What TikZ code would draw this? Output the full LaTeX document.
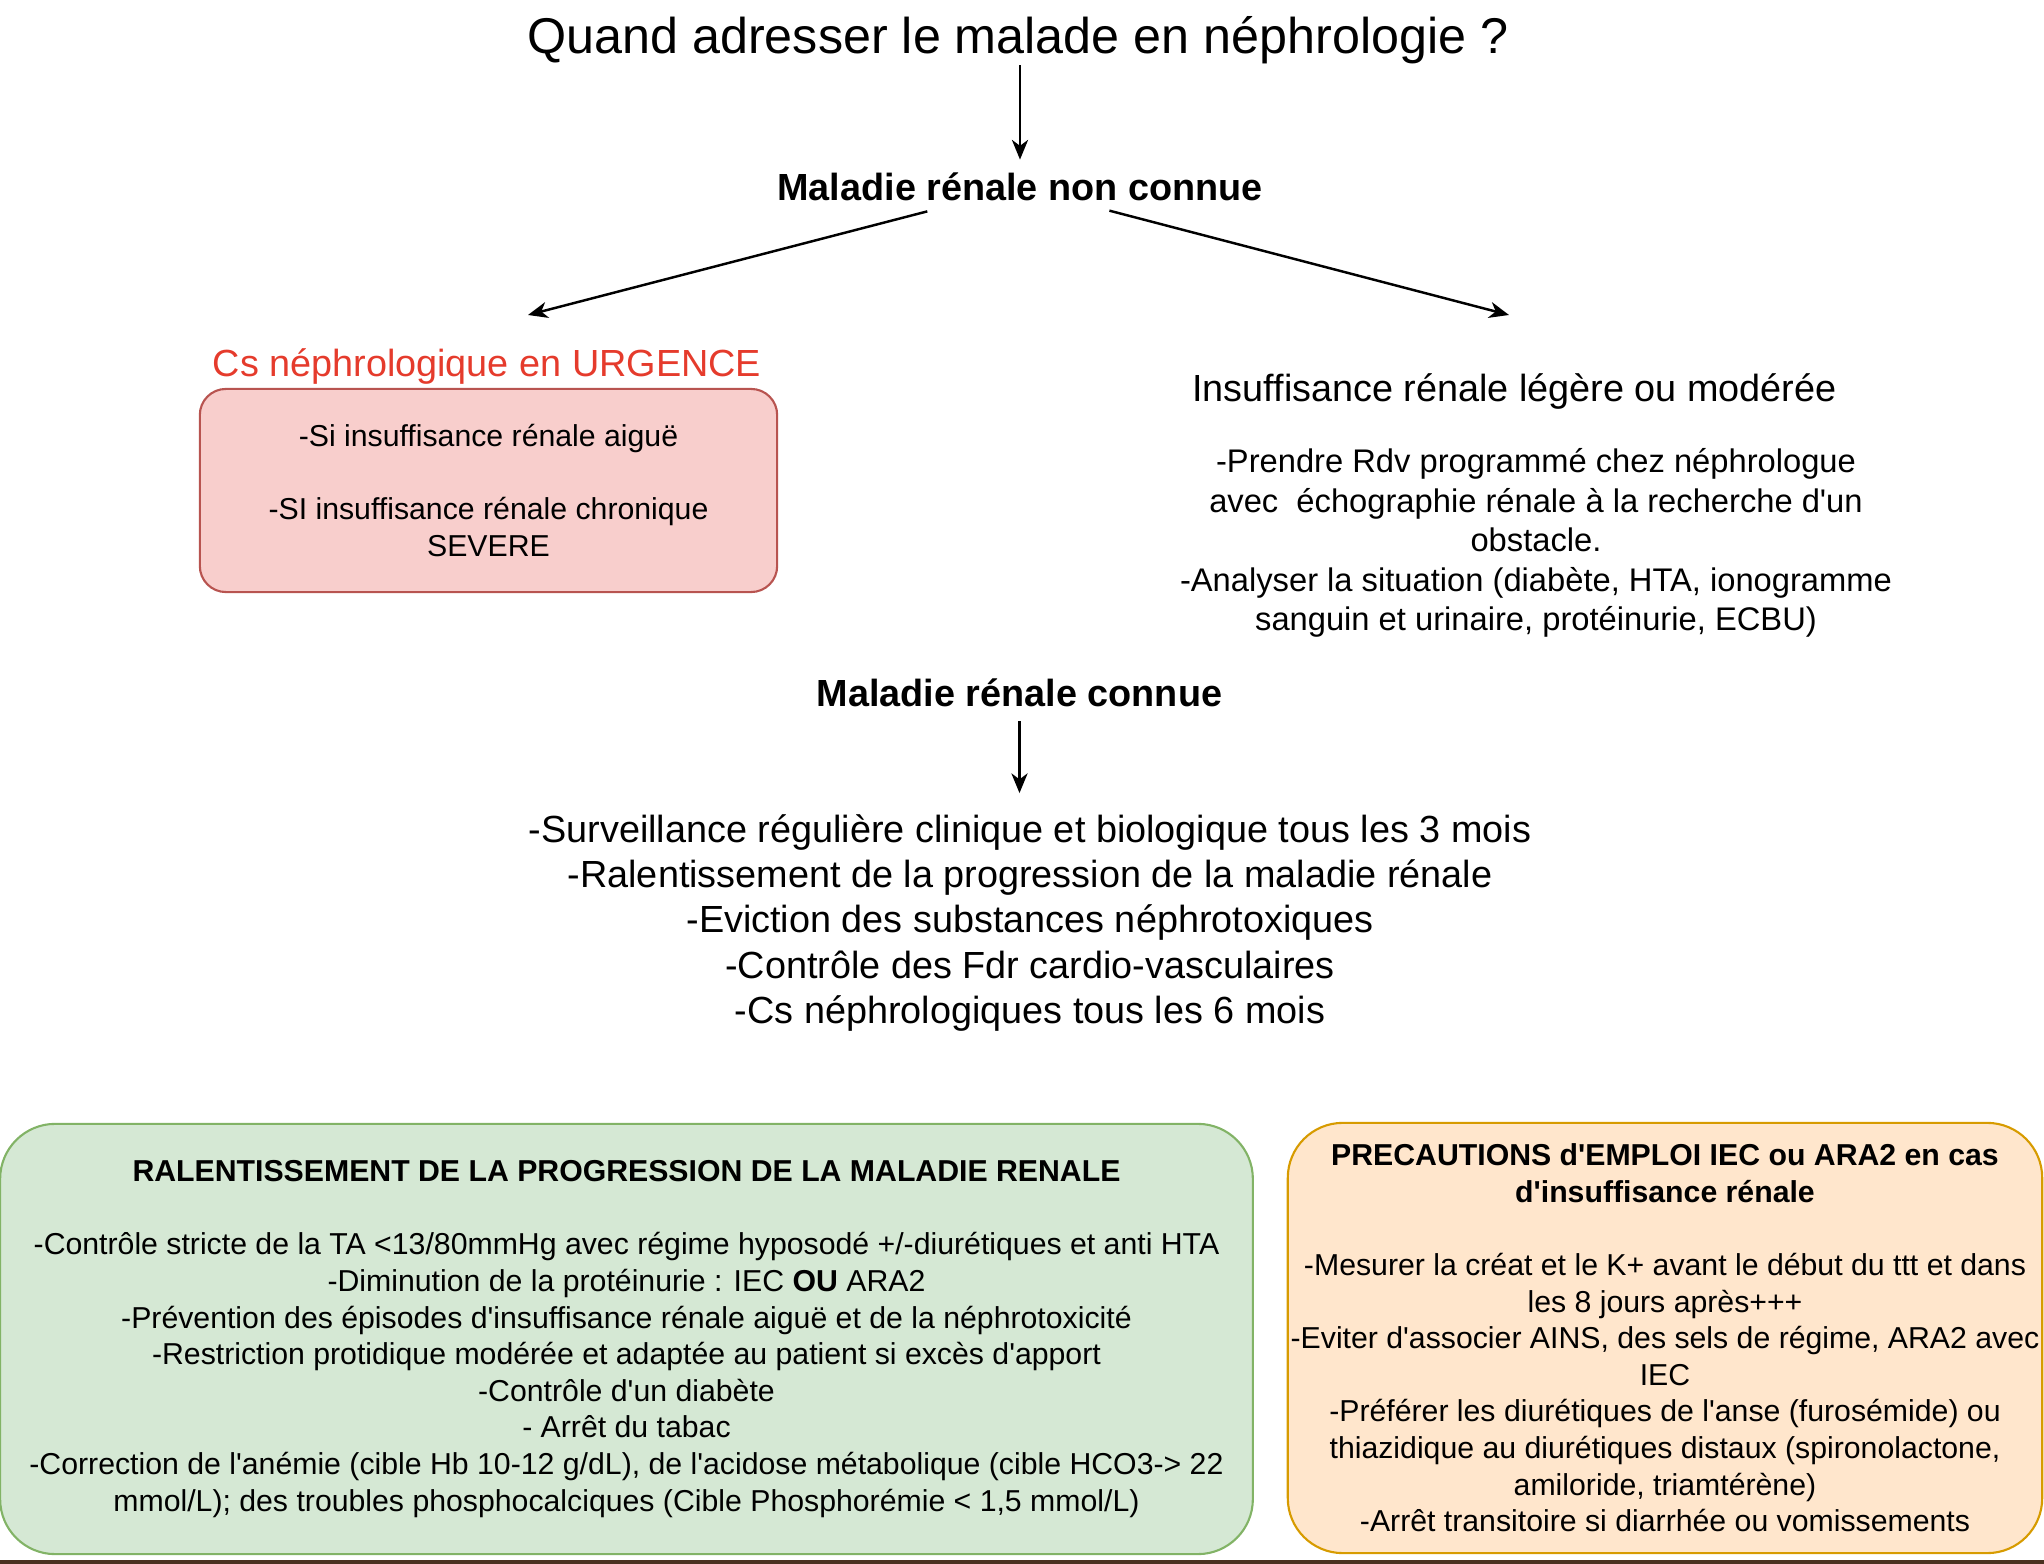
\documentclass[tikz,border=0pt]{standalone}
\usepackage{fontspec}
\setmainfont{Liberation Sans}
\usetikzlibrary{arrows.meta}
\definecolor{npred}{HTML}{E53B2C}
\definecolor{nppink}{HTML}{F8CECC}
\definecolor{nppinkline}{HTML}{B85450}
\definecolor{npgreen}{HTML}{D5E8D4}
\definecolor{npgreenline}{HTML}{82B366}
\definecolor{nporange}{HTML}{FFE6CC}
\definecolor{nporangeline}{HTML}{D79B00}
\definecolor{npbar}{HTML}{4A3020}
\newcommand{\ap}{\textquotesingle}

\begin{document}
\begin{tikzpicture}[
      x=0.01cm, y=-0.01cm,
      small/.style={font=\fontsize{8.6}{10.4}\selectfont, align=center, inner sep=0pt},
      head/.style={font=\fontsize{10.75}{12.9}\selectfont\bfseries, inner sep=0pt, anchor=base},
      boite/.style={small, line width=0.6pt, minimum height=4.3cm},
      ar/.style={-{Stealth[length=5.6pt,width=4.6pt,inset=1.7pt]}, line width=0.7pt},
    ]
    \useasboundingbox (0,0) rectangle (2044,1564);
    \fill[npbar] (0,1560) rectangle (2044,1564);

    \node[font=\fontsize{14.3}{17}\selectfont, inner sep=0pt, anchor=base] (titre) at (1018,54)
      {Quand adresser le malade en néphrologie ?};
    \node[head] (nonconnue) at (1020,201) {Maladie rénale non connue};
    \coordinate (tipL) at (528,315);
    \coordinate (tipR) at (1509,315);

    % cas urgent
    \node[font=\fontsize{10.75}{12.9}\selectfont, text=npred, inner sep=0pt, anchor=base] (urgence) at (487,377)
      {Cs néphrologique en URGENCE};
    \node[small, fill=nppink, draw=nppinkline, line width=0.6pt, rounded corners=0.26cm,
          minimum width=5.77cm, minimum height=2.03cm] (urgbox) at (488.5,490.5)
      {-Si insuffisance rénale aiguë\\ ~\\ -SI insuffisance rénale chronique\\ SEVERE};

    % cas non urgent
    \node[font=\fontsize{10.75}{12.9}\selectfont, inner sep=0pt, anchor=base] (legere) at (1514.5,402)
      {Insuffisance rénale légère ou modérée};
    \node[font=\fontsize{9.3}{11.2}\selectfont, align=center, inner sep=0pt] (legtxt) at (1536,543)
      {-Prendre Rdv programmé chez néphrologue\\
       avec\ \ échographie rénale à la recherche d\ap un\\
       obstacle.\\
       -Analyser la situation (diabète, HTA, ionogramme\\
       sanguin et urinaire, protéinurie, ECBU)};

    \node[head] (connue) at (1019.5,707) {Maladie rénale connue};
    \node[font=\fontsize{10.75}{12.85}\selectfont, align=center, inner sep=0pt] (suivi) at (1030,923)
      {-Surveillance régulière clinique et biologique tous les 3 mois\\
       -Ralentissement de la progression de la maladie rénale\\
       -Eviction des substances néphrotoxiques\\
       -Contrôle des Fdr cardio-vasculaires\\
       -Cs néphrologiques tous les 6 mois};

    % encadres du bas
    \node[boite, fill=npgreen, draw=npgreenline, rounded corners=0.55cm,
          minimum width=12.52cm] (ralent) at (626.5,1339)
      {\textbf{RALENTISSEMENT DE LA PROGRESSION DE LA MALADIE RENALE}\\ ~\\
       -Contrôle stricte de la TA <13/80mmHg avec régime hyposodé +/-diurétiques et anti HTA\\
       -Diminution de la protéinurie : IEC \textbf{OU} ARA2\\
       -Prévention des épisodes d\ap insuffisance rénale aiguë et de la néphrotoxicité\\
       -Restriction protidique modérée et adaptée au patient si excès d\ap apport\\
       -Contrôle d\ap un diabète\\
       - Arrêt du tabac\\
       -Correction de l\ap anémie (cible Hb 10-12 g/dL), de l\ap acidose métabolique (cible HCO3-> 22\\
       mmol/L); des troubles phosphocalciques (Cible Phosphorémie < 1,5 mmol/L)};
    \node[boite, fill=nporange, draw=nporangeline, rounded corners=0.55cm,
          minimum width=7.54cm] (precau) at (1665,1338)
      {\textbf{PRECAUTIONS d\ap EMPLOI IEC ou ARA2 en cas}\\
       \textbf{d\ap insuffisance rénale}\\ ~\\
       -Mesurer la créat et le K+ avant le début du ttt et dans\\
       les 8 jours après+++\\
       -Eviter d\ap associer AINS, des sels de régime, ARA2 avec\\
       IEC\\
       -Préférer les diurétiques de l\ap anse (furosémide) ou\\
       thiazidique au diurétiques distaux (spironolactone,\\
       amiloride, triamtérène)\\
       -Arrêt transitoire si diarrhée ou vomissements};

    \draw[ar, shorten >=0.13cm] (titre.south -| nonconnue.north) -- (nonconnue.north);
    \draw[ar, shorten <=0.37cm] (nonconnue) -- (tipL);
    \draw[ar, shorten <=0.34cm] (nonconnue) -- (tipR);
    \draw[ar, shorten <=0.13cm, shorten >=0.21cm] (connue.south) -- (connue.south |- suivi.north);
  \end{tikzpicture}
\end{document}
